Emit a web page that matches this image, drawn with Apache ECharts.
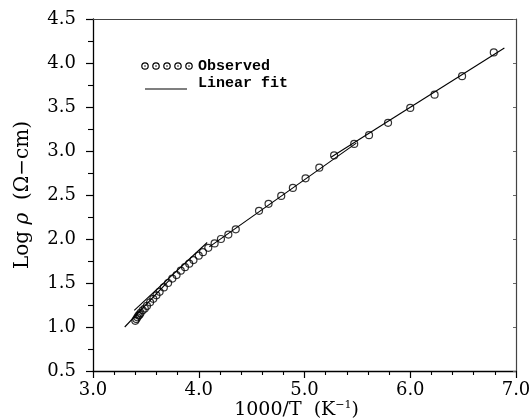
<!DOCTYPE html>
<html>
<head>
<meta charset="utf-8">
<script src="https://cdn.jsdelivr.net/npm/echarts@6/dist/echarts.min.js"></script>
<style>html,body{margin:0;padding:0;background:#fff;}#c{width:530px;height:420px;}</style>
</head>
<body>
<div id="c"></div>
<script>
// Observed data: 1000/T (K^-1) and Log rho (ohm-cm)
var obsX = [3.40, 3.41, 3.42, 3.43, 3.44, 3.45, 3.47, 3.49, 3.51, 3.54, 3.57, 3.60, 3.63, 3.67, 3.71, 3.75, 3.79, 3.83, 3.87, 3.91, 3.95, 4.00, 4.04, 4.09, 4.15, 4.21, 4.28, 4.35, 4.57, 4.66, 4.78, 4.89, 5.01, 5.14, 5.28, 5.47, 5.61, 5.79, 6.00, 6.23, 6.49, 6.79];
var obsY = [1.07, 1.09, 1.11, 1.13, 1.14, 1.16, 1.19, 1.21, 1.24, 1.28, 1.32, 1.36, 1.40, 1.45, 1.50, 1.55, 1.59, 1.64, 1.68, 1.72, 1.76, 1.81, 1.85, 1.90, 1.95, 2.00, 2.05, 2.11, 2.32, 2.40, 2.49, 2.58, 2.69, 2.81, 2.95, 3.08, 3.18, 3.32, 3.49, 3.64, 3.85, 4.12];
// Linear fit segments (end points)
var fitA1X = [3.30, 3.72], fitA1Y = [1.00, 1.53];
var fitA2X = [3.39, 4.08], fitA2Y = [1.19, 1.96];
var fitBX = [4.10, 5.49], fitBY = [1.91, 3.09];
var fitCX = [5.25, 6.89], fitCY = [2.93, 4.17];
// Axis ranges/ticks
var xMin = 3.0, xMax = 7.0, xStep = 1.0;
var yMin = 0.5, yMax = 4.5, yStep = 0.5;
var legendObserved = 'Observed', legendFit = 'Linear fit';

function pairs(xs, ys){ return xs.map(function(x,i){ return [x, ys[i]]; }); }

var serif = 'DejaVu Serif';
var chart = echarts.init(document.getElementById('c'), null, {renderer:'canvas'});
var fitStyle = {color:'#000', width:1.1};
function fitSeries(xs, ys){
  return {type:'line', data:pairs(xs,ys), showSymbol:false, symbol:'none', lineStyle:fitStyle, z:2, silent:true, animation:false};
}
var option = {
  animation:false,
  backgroundColor:'#fff',
  grid:{left:93, right:14, top:19, bottom:49, containLabel:false, outerBoundsMode:'none'},
  xAxis:[{
    type:'value', min:xMin, max:xMax, interval:xStep, position:'bottom',
    axisLine:{show:true, onZero:false, lineStyle:{color:'#000', width:1.3}},
    axisTick:{show:true, inside:false, length:7, lineStyle:{color:'#000', width:1.2}},
    minorTick:{show:true, splitNumber:5, length:4, lineStyle:{color:'#000', width:1.1}},
    splitLine:{show:false},
    axisLabel:{margin:10, color:'#000', fontFamily:serif, fontSize:18, formatter:function(v){return v.toFixed(1);}},
    name:'1000/T  (K{s|−1})', nameLocation:'middle', nameGap:29, nameMoveOverlap:false,
    nameTextStyle:{color:'#000', fontFamily:serif, fontSize:19, padding:[0,16,0,0],
      rich:{s:{fontFamily:serif, fontSize:11, verticalAlign:'top', padding:[0,0,10,0], color:'#000'}}}
  },{
    type:'value', min:xMin, max:xMax, position:'top',
    axisLine:{show:true, onZero:false, lineStyle:{color:'#444', width:1.2}},
    axisTick:{show:false}, axisLabel:{show:false}, splitLine:{show:false}
  }],
  yAxis:[{
    type:'value', min:yMin, max:yMax, interval:yStep, position:'left',
    axisLine:{show:true, onZero:false, lineStyle:{color:'#000', width:1.3}},
    axisTick:{show:true, inside:false, length:7, lineStyle:{color:'#000', width:1.2}},
    minorTick:{show:true, splitNumber:2, length:5, lineStyle:{color:'#000', width:1.1}},
    splitLine:{show:false},
    axisLabel:{margin:17, color:'#000', fontFamily:serif, fontSize:18, formatter:function(v){return v.toFixed(1);}},
    name:'Log {i|ρ}  (Ω−cm)', nameLocation:'middle', nameGap:60, nameRotate:90, nameMoveOverlap:false,
    nameTextStyle:{color:'#000', fontFamily:serif, fontSize:20,
      rich:{i:{fontFamily:serif, fontStyle:'italic', fontSize:20, color:'#000'}}}
  },{
    type:'value', min:yMin, max:yMax, interval:yStep, position:'right',
    axisLine:{show:true, onZero:false, lineStyle:{color:'#444', width:1.2}},
    axisTick:{show:true, inside:true, length:3, lineStyle:{color:'#666'}},
    axisLabel:{show:false}, splitLine:{show:false}
  }],
  series:[
    fitSeries(fitA1X, fitA1Y),
    fitSeries(fitA2X, fitA2Y),
    fitSeries(fitBX, fitBY),
    fitSeries(fitCX, fitCY),
    {type:'scatter', name:legendObserved, data:pairs(obsX, obsY), symbol:'circle', symbolSize:7,
     itemStyle:{color:'rgba(255,255,255,0)', borderColor:'#000', borderWidth:1.2}, z:3, silent:true, animation:false}
  ],
  graphic:[]
};
// legend drawn as graphics
var lg = [];
[145, 156, 167, 178, 189].forEach(function(cx){
  lg.push({type:'circle', shape:{cx:cx, cy:66, r:3.2}, style:{fill:'#fff', stroke:'#000', lineWidth:1.2}});
  lg.push({type:'circle', shape:{cx:cx, cy:66, r:0.8}, style:{fill:'#000'}});
});
lg.push({type:'text', left:198, top:59, style:{text:legendObserved, font:'bold 15px "Liberation Mono"', fill:'#000'}});
lg.push({type:'line', shape:{x1:145, y1:89, x2:187, y2:89}, style:{stroke:'#000', lineWidth:1.2}});
lg.push({type:'text', left:198, top:76, style:{text:legendFit, font:'bold 15px "Liberation Mono"', fill:'#000'}});
option.graphic = lg;
chart.setOption(option);
</script>
</body>
</html>
